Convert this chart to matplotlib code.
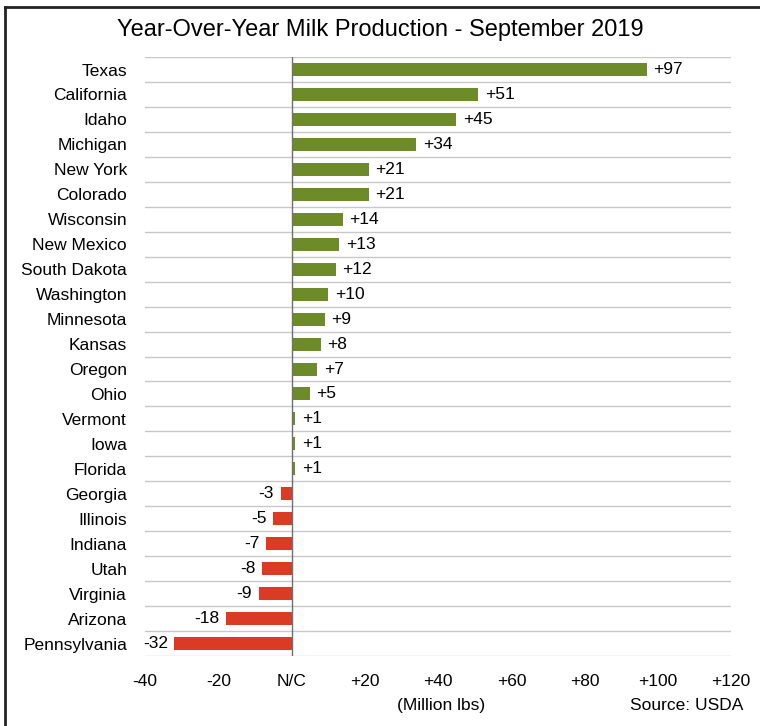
import matplotlib.pyplot as plt
from matplotlib.lines import Line2D
import numpy as np

plt.rcParams['font.family'] = ['Liberation Sans', 'DejaVu Sans']

# data
states = ["Texas", "California", "Idaho", "Michigan", "New York", "Colorado",
          "Wisconsin", "New Mexico", "South Dakota", "Washington", "Minnesota",
          "Kansas", "Oregon", "Ohio", "Vermont", "Iowa", "Florida", "Georgia",
          "Illinois", "Indiana", "Utah", "Virginia", "Arizona", "Pennsylvania"]
changes = [97, 51, 45, 34, 21, 21, 14, 13, 12, 10, 9, 8, 7, 5, 1, 1, 1,
           -3, -5, -7, -8, -9, -18, -32]
x_ticks = [-40, -20, 0, 20, 40, 60, 80, 100, 120]
x_tick_labels = ["-40", "-20", "N/C", "+20", "+40", "+60", "+80", "+100", "+120"]

green = "#6E8B2A"
red = "#D93B24"
fs = 12.5

fig = plt.figure(figsize=(7.6, 7.26), dpi=100)
ax = fig.add_axes([0.191, 0.0964, 0.771, 0.825])

n = len(states)
y = np.arange(n)
colors = [green if v > 0 else red for v in changes]
ax.barh(y, changes, height=0.52, color=colors, zorder=3)

# category separators
for b in np.arange(-0.5, n, 1.0):
    ax.axhline(b, color="#c8c8c8", linewidth=1, zorder=1)
ax.axvline(0, color="#707070", linewidth=1, zorder=4)

for yi, v in zip(y, changes):
    if v > 0:
        ax.text(v + 1.8, yi, "+%d" % v, va="center", ha="left", fontsize=fs)
    else:
        ax.text(v - 1.8, yi, "%d" % v, va="center", ha="right", fontsize=fs)

ax.set_ylim(n - 0.5, -0.5)
ax.set_xlim(-40, 120)
ax.set_yticks(y)
ax.set_yticklabels(states, fontsize=fs)
ax.set_xticks(x_ticks)
ax.set_xticklabels(x_tick_labels, fontsize=fs)
ax.tick_params(axis="both", length=0)
ax.tick_params(axis="y", pad=13)
ax.tick_params(axis="x", pad=13)
for s in ax.spines.values():
    s.set_visible(False)

fig.text(0.5, 0.958, "Year-Over-Year Milk Production - September 2019",
         ha="center", va="center", fontsize=17)
fig.text(0.581, 0.028, "(Million lbs)", ha="center", va="center", fontsize=fs)
fig.text(0.978, 0.028, "Source: USDA", ha="right", va="center", fontsize=fs)

# frame only on top and left (the picture is cropped on the other sides)
fig.add_artist(Line2D([0.0066, 1.0], [0.9905, 0.9905], transform=fig.transFigure,
                      color="#222222", linewidth=2))
fig.add_artist(Line2D([0.0066, 0.0066], [0.0, 0.9905], transform=fig.transFigure,
                      color="#222222", linewidth=2))

plt.savefig("out.png", dpi=100)
